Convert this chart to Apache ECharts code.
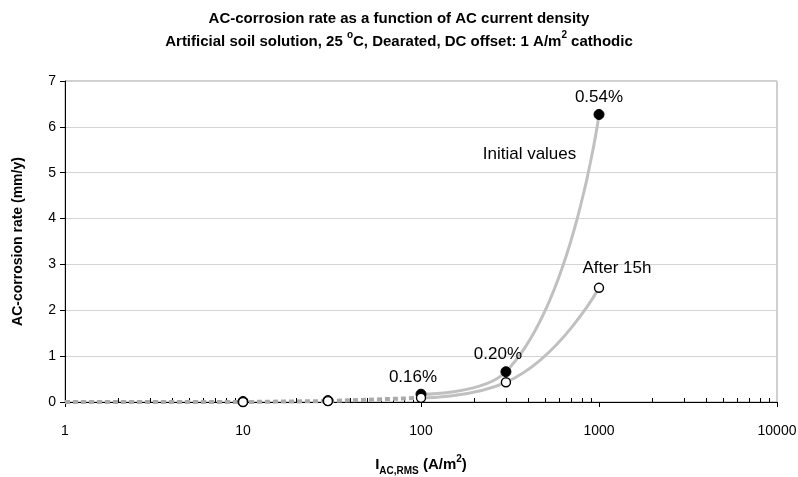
<!DOCTYPE html>
<html>
<head>
<meta charset="utf-8">
<script src="https://cdn.jsdelivr.net/npm/echarts@6/dist/echarts.min.js"></script>
<style>html,body{margin:0;padding:0;background:#fff}#chart{width:798px;height:477px}</style>
</head>
<body>
<div id="chart"></div>
<script>
// AC current density (A/m2) and measured corrosion rates (mm/y)
var current = [10, 30, 100, 300, 1000];
var initialRate = [0.01, 0.03, 0.17, 0.66, 6.27];
var after15hRate = [0.0, 0.02, 0.09, 0.43, 2.49];
var pctLabels = ['', '', '0.16%', '0.20%', '0.54%'];
// low current part of the trend (dotted)
var lowCurrent = [1, 10, 30, 100];
var lowRate = [0.0, 0.0, 0.02, 0.09];
// log axis minor ticks
var minorTicks = [2,3,4,5,6,7,8,9, 20,30,40,50,60,70,80,90, 200,300,400,500,600,700,800,900, 2000,3000,4000,5000,6000,7000,8000,9000];

var FONT = '"Liberation Sans", Arial, sans-serif';

function pairs(xs, ys){
	var out = [];
	for(var i=0;i<xs.length;i++){
		out.push([xs[i], ys[i]]);
	}
	return out;
}

var initialPts = [];
for(var i=0;i<current.length;i++){
	var item = {value:[current[i], initialRate[i]], pct: pctLabels[i]};
	if(i == current.length-1){
		item.label = {offset: [0, 0]};   //top label sits straight above
	}
	initialPts.push(item);
}

var option = {
	animation: false,
	backgroundColor: '#fff',
	title: {
		left: 'center',
		top: 2,
		text: 'AC-corrosion rate as a function of AC current density\n{n|Artificial soil solution, 25 }{s|o}{n|C, Dearated, DC offset: 1 A/m}{s|2}{n| cathodic}',
		textStyle: {
			fontFamily: FONT, fontSize: 15, fontWeight: 'bold', color: '#000', lineHeight: 23,
			rich: {
				n: {fontFamily: FONT, fontSize: 15, fontWeight: 'bold', color: '#000', lineHeight: 23},
				s: {fontFamily: FONT, fontSize: 10, fontWeight: 'bold', color: '#000', lineHeight: 12, verticalAlign: 'top'}
			}
		}
	},
	grid: {
		left: 65, right: 21, top: 81, bottom: 75,
		outerBoundsMode: 'none',
		show: true, borderColor: '#a0a0a0', borderWidth: 1
	},
	xAxis: [{
		type: 'log', logBase: 10, min: 1, max: 10000,
		position: 'bottom',
		axisLine: {show: true, lineStyle: {color: '#000', width: 1}},
		axisTick: {show: true, inside: false, length: 5, lineStyle: {color: '#000'}},
		axisLabel: {fontFamily: FONT, fontSize: 14, color: '#000', margin: 22,
			formatter: function(val){ return String(val); }},
		splitLine: {show: false},
		name: '{b|I}{sub|AC,RMS}{b| (A/m}{sup|2}{b|)}',
		nameLocation: 'middle',
		nameGap: 52,
		nameTextStyle: {
			rich: {
				b: {fontFamily: FONT, fontSize: 15, fontWeight: 'bold', color: '#000', lineHeight: 22},
				sub: {fontFamily: FONT, fontSize: 10, fontWeight: 'bold', color: '#000', lineHeight: 10, verticalAlign: 'bottom'},
				sup: {fontFamily: FONT, fontSize: 10, fontWeight: 'bold', color: '#000', lineHeight: 12, verticalAlign: 'top'}
			}
		}
	}, {
		// minor ticks drawn inward, Excel style
		type: 'log', logBase: 10, min: 1, max: 10000,
		position: 'bottom',
		axisLine: {show: false},
		axisTick: {show: true, inside: true, length: 4, customValues: minorTicks, lineStyle: {color: '#000'}},
		axisLabel: {show: false},
		splitLine: {show: false}
	}],
	yAxis: {
		type: 'value', min: 0, max: 7, interval: 1,
		axisLine: {show: true, lineStyle: {color: '#000', width: 1}},
		axisTick: {show: true, inside: false, length: 5, lineStyle: {color: '#000'}},
		axisLabel: {fontFamily: FONT, fontSize: 14, color: '#000', margin: 9},
		splitLine: {show: true, lineStyle: {color: '#d4d4d4', width: 1}},
		name: 'AC-corrosion rate (mm/y)',
		nameLocation: 'middle',
		nameGap: 40,
		nameTextStyle: {fontFamily: FONT, fontSize: 14, fontWeight: 'bold', color: '#000'}
	},
	series: [
		{	// dotted trend at low current
			type: 'line', xAxisIndex: 0, data: pairs(lowCurrent, lowRate),
			showSymbol: false, smooth: false,
			lineStyle: {color: '#aaaaaa', width: 4, type: [5, 3]}, z: 5
		},
		{	// trend through initial values
			type: 'line', xAxisIndex: 0, data: pairs(current.slice(2), initialRate.slice(2)),
			showSymbol: false, smooth: 0.5,
			lineStyle: {color: '#c0c0c0', width: 3}, z: 2
		},
		{	// trend after 15h
			type: 'line', xAxisIndex: 0, data: pairs(current.slice(2), after15hRate.slice(2)),
			showSymbol: false, smooth: 0.5,
			lineStyle: {color: '#c0c0c0', width: 3}, z: 2
		},
		{
			name: 'Initial values', type: 'scatter', xAxisIndex: 0,
			data: initialPts,
			symbol: 'circle', symbolSize: 10,
			itemStyle: {color: '#000', borderColor: '#000', borderWidth: 1, opacity: 1},
			label: {
				show: true, position: 'top', distance: 3, offset: [-8, 0],
				fontFamily: FONT, fontSize: 17, color: '#000',
				formatter: function(p){ return p.data.pct; }
			},
			z: 6
		},
		{
			name: 'After 15h', type: 'scatter', xAxisIndex: 0,
			data: pairs(current, after15hRate),
			symbol: 'circle', symbolSize: 9,
			itemStyle: {color: '#fff', borderColor: '#000', borderWidth: 1.4, opacity: 1},
			z: 7
		},
		{	// curve names
			type: 'scatter', xAxisIndex: 0, symbolSize: 1, silent: true,
			itemStyle: {color: 'rgba(0,0,0,0)', opacity: 1},
			data: [
				{value: [407, 5.41], name: 'Initial values'},
				{value: [1262, 2.92], name: 'After 15h'}
			],
			label: {
				show: true, position: 'inside',
				fontFamily: FONT, fontSize: 17, color: '#000',
				formatter: function(p){ return p.name; }
			}
		}
	]
};

var chart = echarts.init(document.getElementById('chart'));
chart.setOption(option);
</script>
</body>
</html>
